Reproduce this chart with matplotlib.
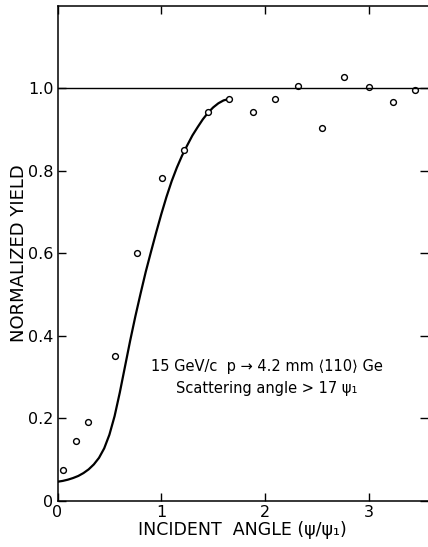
import matplotlib
matplotlib.use('Agg')
import matplotlib.pyplot as plt

angle = [0.056, 0.178, 0.297, 0.557, 0.77, 1.004, 1.22, 1.447, 1.655,
         1.88, 2.10, 2.32, 2.55, 2.76, 3.00, 3.23, 3.44]
yield_ = [0.075, 0.145, 0.190, 0.351, 0.600, 0.783, 0.850, 0.943, 0.974,
          0.944, 0.974, 1.005, 0.903, 1.027, 1.004, 0.966, 0.997]

# Calculated curve
curve_x = [0.0, 0.05, 0.10, 0.15, 0.20, 0.25, 0.30, 0.35, 0.40, 0.45, 0.50,
           0.55, 0.60, 0.65, 0.70, 0.75, 0.80, 0.85, 0.90, 0.95, 1.00,
           1.05, 1.10, 1.15, 1.20, 1.25, 1.30, 1.35, 1.40, 1.45, 1.50,
           1.55, 1.60, 1.66]
curve_y = [0.046, 0.048, 0.051, 0.055, 0.060, 0.067, 0.076, 0.088, 0.104,
           0.127, 0.160, 0.205, 0.262, 0.325, 0.388, 0.447, 0.502, 0.555,
           0.603, 0.650, 0.695, 0.737, 0.775, 0.808, 0.837, 0.862, 0.886,
           0.906, 0.925, 0.941, 0.954, 0.964, 0.971, 0.975]

xticks = [0, 1, 2, 3]
yticks = [0, 0.2, 0.4, 0.6, 0.8, 1.0]
ytick_labels = ['0', '0.2', '0.4', '0.6', '0.8', '1.0']

plt.rcParams['font.family'] = ['DejaVu Sans']

fig = plt.figure(figsize=(4.28, 5.47), dpi=100)
ax = fig.add_axes([57.5 / 428, 46.3 / 547, 1 - 57.5 / 428, (500.7 - 6) / 547])

ax.plot(curve_x, curve_y, color='black', lw=1.6)
ax.plot(angle, yield_, 'o', mfc='white', mec='black', ms=4.2, mew=1.0)
ax.axhline(1.0, color='black', lw=1.0)

ax.set_xlim(0, 3.57)
ax.set_ylim(0, 1.2)
ax.set_xticks(xticks)
ax.set_xticklabels([str(t) for t in xticks])
ax.set_yticks(yticks)
ax.set_yticklabels(ytick_labels)
ax.tick_params(direction='in', length=6, width=1.0, labelsize=11.5,
               top=True, right=True, pad=3)
ax.spines['right'].set_visible(False)
for s in ['left', 'bottom', 'top']:
    ax.spines[s].set_linewidth(1.1)

ax.set_xlabel('INCIDENT  ANGLE (ψ/ψ₁)', fontsize=12.5, labelpad=1)
ax.set_ylabel('NORMALIZED YIELD', fontsize=13, labelpad=0)

ax.text(2.02, 0.325, '15 GeV/c  p → 4.2 mm ⟨110⟩ Ge', ha='center', va='center', fontsize=10.5)
ax.text(2.02, 0.271, 'Scattering angle > 17 ψ₁', ha='center', va='center', fontsize=10.5)

plt.savefig('out.png', dpi=100)
